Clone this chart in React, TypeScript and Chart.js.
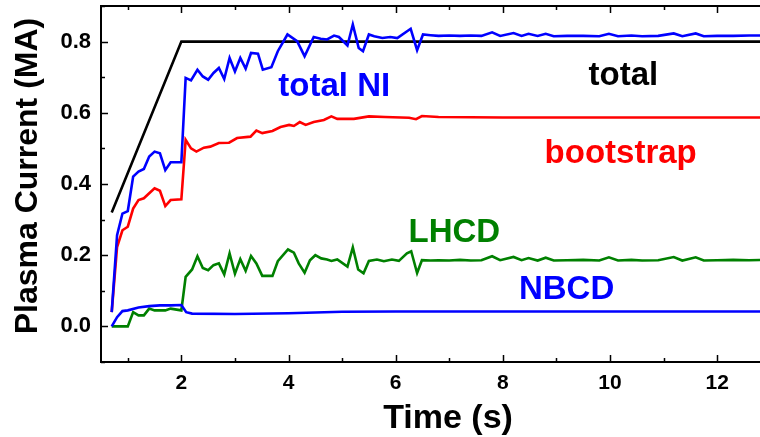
import React, { useEffect, useRef } from "react";
import { Chart, registerables } from "chart.js";

Chart.register(...registerables);

// ---------- data ----------
const totalTime = [0.7, 2.0, 12.9];
const totalValues = [0.32, 0.8, 0.8];

const niTime = [0.7, 0.8, 0.9, 1.0, 1.1, 1.2, 1.3, 1.4, 1.5, 1.6, 1.7, 1.8, 2.0, 2.08, 2.18, 2.3, 2.4, 2.5, 2.6, 2.7, 2.8, 2.9, 3.0, 3.1, 3.2, 3.3, 3.43, 3.52, 3.68, 3.8, 3.98, 4.16, 4.3, 4.47, 4.6, 4.72, 4.85, 4.94, 5.1, 5.2, 5.31, 5.39, 5.5, 5.6, 5.75, 5.9, 6.03, 6.28, 6.4, 6.51, 6.65, 6.8, 7.0, 7.2, 7.4, 7.6, 7.8, 7.95, 8.2, 8.35, 8.48, 8.65, 8.8, 8.95, 9.2, 9.5, 9.8, 9.98, 10.15, 10.4, 10.6, 10.9, 11.19, 11.35, 11.6, 11.75, 12.0, 12.3, 12.6, 12.9];
const niValues = [0.04, 0.256, 0.317, 0.324, 0.421, 0.435, 0.442, 0.477, 0.491, 0.486, 0.439, 0.461, 0.461, 0.698, 0.691, 0.721, 0.702, 0.693, 0.712, 0.726, 0.695, 0.754, 0.716, 0.754, 0.724, 0.768, 0.766, 0.721, 0.728, 0.773, 0.82, 0.801, 0.759, 0.813, 0.808, 0.806, 0.817, 0.813, 0.789, 0.848, 0.782, 0.773, 0.82, 0.815, 0.81, 0.813, 0.81, 0.836, 0.776, 0.82, 0.818, 0.816, 0.817, 0.816, 0.817, 0.816, 0.826, 0.816, 0.824, 0.816, 0.822, 0.816, 0.822, 0.815, 0.816, 0.816, 0.815, 0.822, 0.815, 0.817, 0.815, 0.816, 0.823, 0.815, 0.823, 0.815, 0.816, 0.816, 0.817, 0.817];

const bsTime = [0.7, 0.8, 0.9, 1.0, 1.1, 1.2, 1.3, 1.4, 1.5, 1.6, 1.7, 1.8, 2.0, 2.08, 2.18, 2.28, 2.42, 2.54, 2.7, 2.89, 3.04, 3.29, 3.4, 3.51, 3.7, 3.85, 4.01, 4.1, 4.21, 4.32, 4.47, 4.66, 4.8, 4.91, 5.22, 5.5, 5.8, 6.25, 6.38, 6.49, 6.8, 8.0, 10.0, 12.9];
const bsValues = [0.04, 0.223, 0.27, 0.28, 0.331, 0.355, 0.36, 0.374, 0.388, 0.381, 0.338, 0.355, 0.357, 0.524, 0.5, 0.491, 0.502, 0.505, 0.515, 0.516, 0.529, 0.533, 0.55, 0.543, 0.549, 0.56, 0.566, 0.563, 0.574, 0.566, 0.574, 0.58, 0.59, 0.583, 0.583, 0.59, 0.588, 0.586, 0.582, 0.591, 0.588, 0.587, 0.587, 0.587];

const lhTime = [0.7, 1.0, 1.1, 1.2, 1.3, 1.4, 1.5, 1.7, 1.8, 2.0, 2.08, 2.2, 2.3, 2.4, 2.5, 2.6, 2.7, 2.8, 2.9, 3.0, 3.1, 3.2, 3.3, 3.4, 3.51, 3.7, 3.8, 3.99, 4.1, 4.19, 4.3, 4.4, 4.5, 4.61, 4.72, 4.8, 4.91, 5.1, 5.2, 5.3, 5.4, 5.5, 5.65, 5.78, 5.93, 6.06, 6.21, 6.29, 6.4, 6.49, 6.65, 6.8, 7.0, 7.2, 7.4, 7.6, 7.8, 7.95, 8.2, 8.35, 8.48, 8.65, 8.8, 8.95, 9.2, 9.5, 9.8, 9.98, 10.15, 10.4, 10.6, 10.9, 11.19, 11.35, 11.6, 11.75, 12.0, 12.3, 12.6, 12.9];
const lhValues = [0, 0, 0.04, 0.031, 0.031, 0.05, 0.045, 0.045, 0.05, 0.045, 0.139, 0.16, 0.197, 0.164, 0.158, 0.172, 0.177, 0.146, 0.205, 0.148, 0.189, 0.156, 0.198, 0.177, 0.142, 0.142, 0.183, 0.216, 0.207, 0.177, 0.151, 0.186, 0.2, 0.191, 0.188, 0.184, 0.188, 0.168, 0.222, 0.16, 0.149, 0.184, 0.188, 0.183, 0.188, 0.184, 0.205, 0.211, 0.15, 0.186, 0.185, 0.186, 0.185, 0.187, 0.185, 0.186, 0.197, 0.186, 0.195, 0.186, 0.192, 0.185, 0.193, 0.185, 0.186, 0.187, 0.185, 0.194, 0.185, 0.187, 0.185, 0.186, 0.195, 0.185, 0.194, 0.185, 0.186, 0.187, 0.186, 0.187];

const nbTime = [0.7, 0.8, 0.9, 1.0, 1.2, 1.4, 1.6, 1.8, 2.0, 2.09, 2.2, 3.0, 4.0, 5.0, 6.0, 8.0, 10.0, 12.9];
const nbValues = [0, 0.026, 0.043, 0.045, 0.053, 0.057, 0.059, 0.059, 0.06, 0.04, 0.036, 0.035, 0.037, 0.041, 0.042, 0.042, 0.042, 0.042];

const labelTexts = ["total NI", "total", "bootstrap", "LHCD", "NBCD"];
const labelTimes = [3.81, 9.6, 8.78, 6.24, 8.3];
const labelValues = [0.646, 0.679, 0.458, 0.237, 0.076];
const labelColors = ["#0000ff", "#000000", "#ff0000", "#008000", "#0000ff"];

const xTitle = "Time (s)";
const yTitle = "Plasma Current (MA)";

const FONT = 'Arial, "Liberation Sans", sans-serif';

const pts = (t: number[], v: number[]) => t.map((x, i) => ({ x, y: v[i] }));

const frame = {
  id: "frame",
  afterDatasetsDraw(chart: any) {
    const { ctx, chartArea: a, scales } = chart;
    const xs = scales.x;
    const ys = scales.y;
    ctx.save();
    ctx.strokeStyle = "#000";
    ctx.lineWidth = 2;
    ctx.beginPath();
    ctx.moveTo(a.left, a.top);
    ctx.lineTo(a.left, a.bottom);
    ctx.moveTo(a.left - 1, a.bottom);
    ctx.lineTo(a.right, a.bottom);
    ctx.moveTo(a.left - 1, a.top);
    ctx.lineTo(a.right, a.top);
    ctx.stroke();
    ctx.lineWidth = 1.5;
    ctx.beginPath();
    for (let k = Math.ceil(xs.min); k <= Math.floor(xs.max); k++) {
      const px = Math.round(xs.getPixelForValue(k)) + 0.5;
      const len = k % 2 === 0 ? 7 : 4;
      ctx.moveTo(px, a.bottom);
      ctx.lineTo(px, a.bottom - len);
      ctx.moveTo(px, a.top);
      ctx.lineTo(px, a.top + len);
    }
    for (let k = Math.ceil(ys.min * 10 - 1e-6); k <= Math.floor(ys.max * 10 + 1e-6); k++) {
      const py = Math.round(ys.getPixelForValue(k / 10)) + 0.5;
      const len = Math.abs(k) % 2 === 0 ? 7 : 4;
      ctx.moveTo(a.left, py);
      ctx.lineTo(a.left + len, py);
    }
    ctx.stroke();

    // series annotations
    ctx.font = `bold 33px ${FONT}`;
    ctx.textBaseline = "alphabetic";
    ctx.textAlign = "left";
    labelTexts.forEach((txt, i) => {
      ctx.fillStyle = labelColors[i];
      ctx.fillText(txt, xs.getPixelForValue(labelTimes[i]), ys.getPixelForValue(labelValues[i]));
    });

    // axis titles
    ctx.fillStyle = "#000";
    ctx.textAlign = "center";
    ctx.font = `bold 34px ${FONT}`;
    ctx.fillText(xTitle, 448, 428);
    ctx.font = `bold 32px ${FONT}`;
    ctx.translate(36.5, 176);
    ctx.rotate(-Math.PI / 2);
    ctx.fillText(yTitle, 0, 0);
    ctx.restore();
  },
};

export default function App() {
  const ref = useRef<HTMLCanvasElement | null>(null);
  useEffect(() => {
    if (!ref.current) return;
    const line = (data: any, color: string) => ({
      data,
      borderColor: color,
      backgroundColor: color,
      borderWidth: 2.6,
      pointRadius: 0,
      tension: 0,
      fill: false,
    });
    const chart = new Chart(ref.current, {
      type: "line",
      data: {
        datasets: [
          line(pts(niTime, niValues), "#0000ff"),
          line(pts(bsTime, bsValues), "#ff0000"),
          line(pts(nbTime, nbValues), "#0000ff"),
          line(pts(lhTime, lhValues), "#008000"),
          line(pts(totalTime, totalValues), "#000000"),
        ],
      },
      options: {
        animation: false,
        responsive: false,
        layout: { padding: { left: 0, right: 0, top: 6, bottom: 0 } },
        plugins: { legend: { display: false }, tooltip: { enabled: false } },
        scales: {
          x: {
            type: "linear",
            min: 0.5,
            max: 12.8,
            grid: { display: false, drawTicks: false },
            border: { display: false },
            afterFit: (s: any) => {
              s.height = 75;
              s.paddingLeft = 0;
              s.paddingRight = 0;
            },
            ticks: {
              stepSize: 1,
              includeBounds: false,
              autoSkip: false,
              maxRotation: 0,
              padding: 9,
              color: "#000",
              font: { family: FONT, size: 21, weight: "bold" },
              callback: (v: any) => (Math.round(v) % 2 === 0 ? String(Math.round(v)) : ""),
            },
          },
          y: {
            min: -0.1,
            max: 0.9,
            grid: { display: false, drawTicks: false },
            border: { display: false },
            afterFit: (s: any) => {
              s.width = 101;
              s.paddingTop = 0;
              s.paddingBottom = 0;
            },
            ticks: {
              stepSize: 0.1,
              includeBounds: false,
              autoSkip: false,
              padding: 10,
              color: "#000",
              font: { family: FONT, size: 22, weight: "bold" },
              callback: (v: any) => {
                const k = Math.round(v * 10);
                return Math.abs(k) % 2 === 0 ? (k / 10).toFixed(1) : "";
              },
            },
          },
        },
      },
      plugins: [frame],
    });
    return () => chart.destroy();
  }, []);
  return (
    <div style={{ position: "fixed", left: 0, top: 0, width: 760, height: 437, background: "#fff" }}>
      <canvas ref={ref} width={760} height={437} style={{ width: 760, height: 437, display: "block" }} />
    </div>
  );
}
